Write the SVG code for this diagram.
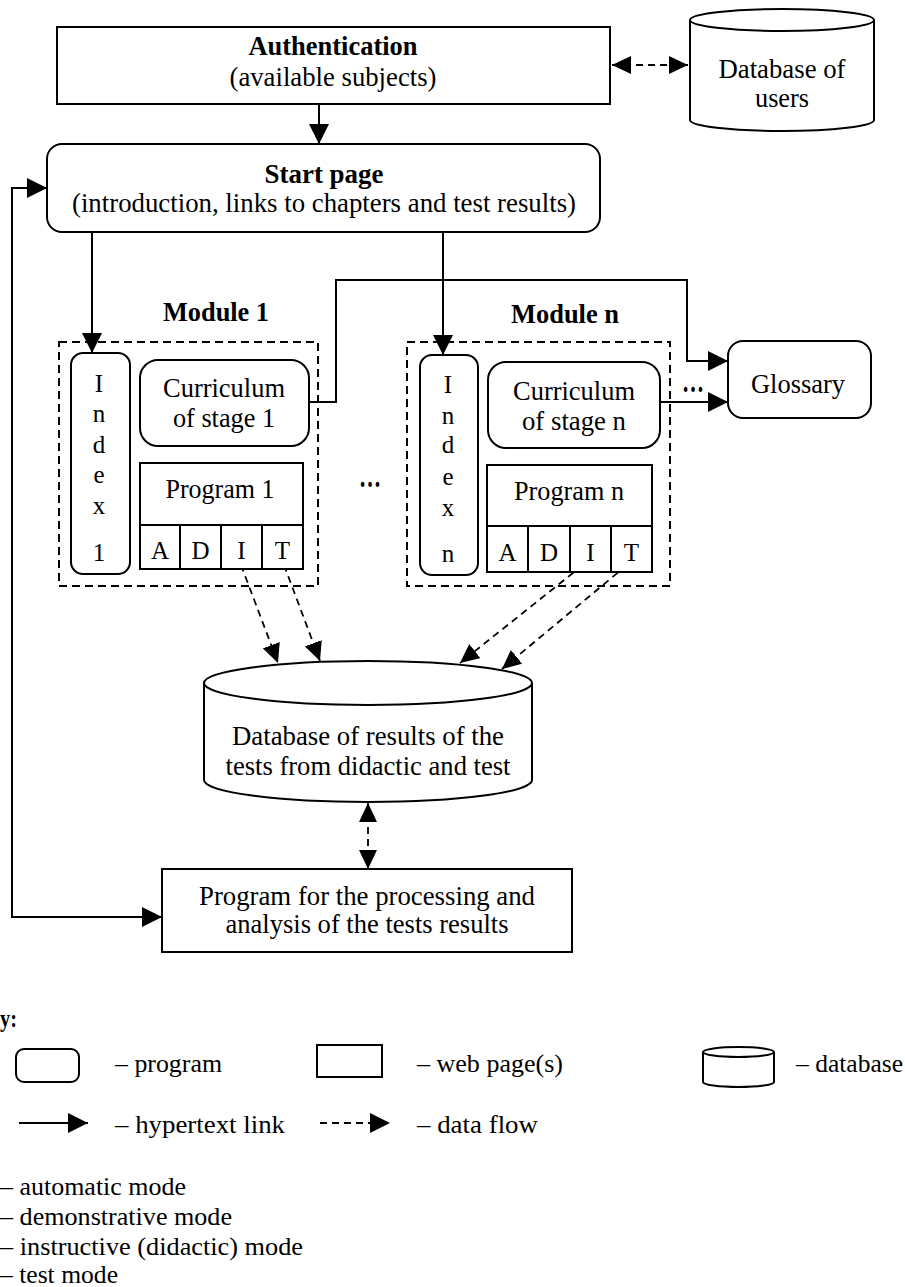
<svg xmlns="http://www.w3.org/2000/svg" width="905" height="1287" viewBox="0 0 905 1287">
<style>
.box{fill:#fff;stroke:#000;stroke-width:2}
.dbox{fill:none;stroke:#000;stroke-width:2;stroke-dasharray:8 5}
.ln{fill:none;stroke:#000;stroke-width:2}
.dl{fill:none;stroke:#000;stroke-width:1.8;stroke-dasharray:7 5}
text{font-family:"Liberation Serif","Times New Roman",serif;font-size:26.5px;fill:#000}
.c{text-anchor:middle}
.b{font-weight:bold}
.lg{font-size:25px}
.ch{font-size:25px}
.el{font-size:32px;font-weight:bold}
</style>
<defs>
<marker id="ah" markerUnits="userSpaceOnUse" markerWidth="20" markerHeight="20" refX="20" refY="10" orient="auto-start-reverse" viewBox="0 0 20 20"><path d="M0,0 L20,10 L0,20 z" fill="#000"/></marker>
<marker id="dh" markerUnits="userSpaceOnUse" markerWidth="19" markerHeight="18" refX="19" refY="9" orient="auto-start-reverse" viewBox="0 0 19 18"><path d="M0,0 L19,9 L0,18 z" fill="#000"/></marker>
</defs>

<g id="connectors">
<path class="dl" d="M612,65 L688,65" marker-start="url(#dh)" marker-end="url(#dh)"/>
<path class="ln" d="M319,104 L319,144" marker-end="url(#ah)"/>
<path class="ln" d="M92,232 L92,353" marker-end="url(#ah)"/>
<path class="ln" d="M443,232 L443,355" marker-end="url(#ah)"/>
<path class="ln" d="M309,402 L336,402 L336,280 L687,280 L687,361 L728,361" marker-end="url(#ah)"/>
<path class="ln" d="M660,402 L728,402" marker-end="url(#ah)"/>
<path class="ln" d="M162,917 L12,917 L12,188 L47,188" marker-start="url(#ah)" marker-end="url(#ah)"/>
<path class="dl" d="M241,565 L278,663" marker-end="url(#dh)"/>
<path class="dl" d="M284,565 L320,661" marker-end="url(#dh)"/>
<path class="dl" d="M583,565 L460,663" marker-end="url(#dh)"/>
<path class="dl" d="M627,565 L502,669" marker-end="url(#dh)"/>
<path class="dl" d="M368,803 L368,869" marker-start="url(#dh)" marker-end="url(#dh)"/>
</g>

<g id="authentication">
<rect class="box" x="57" y="27" width="553" height="77"/>
<text class="c b" x="333" y="55" textLength="169" lengthAdjust="spacingAndGlyphs">Authentication</text>
<text class="c" x="333" y="86" textLength="207" lengthAdjust="spacingAndGlyphs">(available subjects)</text>
</g>

<g id="db-users">
<path class="box" d="M690,20 A92,11 0 0 1 874,20 L874,120 A92,11 0 0 1 690,120 Z"/>
<path class="ln" d="M690,20 A92,11 0 0 0 874,20"/>
<text class="c" x="782" y="78" textLength="127" lengthAdjust="spacingAndGlyphs">Database of</text>
<text class="c" x="782" y="107" textLength="54" lengthAdjust="spacingAndGlyphs">users</text>
</g>

<g id="start-page">
<rect class="box" x="47" y="144" width="553" height="88" rx="15"/>
<text class="c b" x="324" y="183" textLength="119" lengthAdjust="spacingAndGlyphs">Start page</text>
<text class="c" x="324" y="212" textLength="504" lengthAdjust="spacingAndGlyphs">(introduction, links to chapters and test results)</text>
</g>

<g id="module-1">
<text class="c b" x="216" y="321" textLength="106" lengthAdjust="spacingAndGlyphs">Module 1</text>
<rect class="dbox" x="59" y="342" width="259" height="244"/>
</g>

<g id="index-1">
<rect class="box" x="71" y="353" width="59" height="221" rx="12"/>
<text class="c ch" x="99" y="392">I</text>
<text class="c ch" x="99" y="422">n</text>
<text class="c ch" x="99" y="453">d</text>
<text class="c ch" x="99" y="483">e</text>
<text class="c ch" x="99" y="514">x</text>
<text class="c ch" x="99" y="561">1</text>
</g>

<g id="curriculum-1">
<rect class="box" x="140" y="360" width="169" height="86" rx="18"/>
<text class="c" x="224" y="397" textLength="122" lengthAdjust="spacingAndGlyphs">Curriculum</text>
<text class="c" x="224" y="427" textLength="102" lengthAdjust="spacingAndGlyphs">of stage 1</text>
</g>

<g id="program-1">
<rect class="box" x="140" y="463" width="163" height="106"/>
<path class="ln" d="M140,525 L303,525 M180,525 L180,569 M221,525 L221,569 M262,525 L262,569"/>
<text class="c" x="220" y="498" textLength="109" lengthAdjust="spacingAndGlyphs">Program 1</text>
<text class="c ch" x="160" y="559">A</text>
<text class="c ch" x="200.5" y="559">D</text>
<text class="c ch" x="241.5" y="559">I</text>
<text class="c ch" x="282.5" y="559">T</text>
</g>

<g id="ellipsis-modules">
<text class="c el" x="370" y="487" textLength="22" lengthAdjust="spacingAndGlyphs">…</text>
</g>

<g id="module-n">
<text class="c b" x="565" y="323" textLength="108" lengthAdjust="spacingAndGlyphs">Module n</text>
<rect class="dbox" x="407" y="342" width="263" height="244"/>
</g>

<g id="index-n">
<rect class="box" x="420" y="355" width="58" height="220" rx="12"/>
<text class="c ch" x="448" y="393">I</text>
<text class="c ch" x="448" y="424">n</text>
<text class="c ch" x="448" y="453">d</text>
<text class="c ch" x="448" y="485">e</text>
<text class="c ch" x="448" y="516">x</text>
<text class="c ch" x="448" y="562">n</text>
</g>

<g id="curriculum-n">
<rect class="box" x="488" y="362" width="172" height="86" rx="18"/>
<text class="c" x="574" y="400" textLength="122" lengthAdjust="spacingAndGlyphs">Curriculum</text>
<text class="c" x="574" y="430" textLength="104" lengthAdjust="spacingAndGlyphs">of stage n</text>
</g>

<g id="program-n">
<rect class="box" x="487" y="465" width="165" height="107"/>
<path class="ln" d="M487,526 L652,526 M528,526 L528,572 M570,526 L570,572 M611,526 L611,572"/>
<text class="c" x="569" y="500" textLength="110" lengthAdjust="spacingAndGlyphs">Program n</text>
<text class="c ch" x="507.5" y="561">A</text>
<text class="c ch" x="549" y="561">D</text>
<text class="c ch" x="590.5" y="561">I</text>
<text class="c ch" x="631.5" y="561">T</text>
</g>

<g id="ellipsis-glossary">
<text class="c el" x="693" y="392" textLength="22" lengthAdjust="spacingAndGlyphs">…</text>
</g>

<g id="glossary">
<rect class="box" x="728" y="341" width="143" height="77" rx="15"/>
<text class="c" x="798" y="393" textLength="94" lengthAdjust="spacingAndGlyphs">Glossary</text>
</g>

<g id="db-results">
<path class="box" d="M204,683 A164,22 0 0 1 532,683 L532,780 A164,22 0 0 1 204,780 Z"/>
<path class="ln" d="M204,683 A164,22 0 0 0 532,683"/>
<text class="c" x="368" y="745" textLength="272" lengthAdjust="spacingAndGlyphs">Database of results of the</text>
<text class="c" x="368" y="775" textLength="285" lengthAdjust="spacingAndGlyphs">tests from didactic and test</text>
</g>

<g id="processing-program">
<rect class="box" x="162" y="869" width="410" height="83"/>
<text class="c" x="367" y="905" textLength="336" lengthAdjust="spacingAndGlyphs">Program for the processing and</text>
<text class="c" x="367" y="933" textLength="283" lengthAdjust="spacingAndGlyphs">analysis of the tests results</text>
</g>

<g id="legend">
<text class="b lg" x="0" y="1027" textLength="17" lengthAdjust="spacingAndGlyphs">y:</text>
<rect class="box" x="16" y="1049" width="63" height="33" rx="8"/>
<text class="lg" x="115" y="1072" textLength="107" lengthAdjust="spacingAndGlyphs">– program</text>
<rect class="box" x="317" y="1045" width="65" height="32"/>
<text class="lg" x="417" y="1072" textLength="146" lengthAdjust="spacingAndGlyphs">– web page(s)</text>
<path class="box" d="M703,1052 A35.5,5 0 0 1 774,1052 L774,1082 A35.5,5 0 0 1 703,1082 Z"/>
<path class="ln" d="M703,1052 A35.5,5 0 0 0 774,1052"/>
<text class="lg" x="796" y="1072" textLength="107" lengthAdjust="spacingAndGlyphs">– database</text>
<path class="ln" d="M19,1123 L88,1123" marker-end="url(#ah)"/>
<text class="lg" x="115" y="1133" textLength="170" lengthAdjust="spacingAndGlyphs">– hypertext link</text>
<path class="dl" d="M320,1123 L390,1123" marker-end="url(#ah)"/>
<text class="lg" x="417" y="1133" textLength="121" lengthAdjust="spacingAndGlyphs">– data flow</text>
<text class="lg" x="0" y="1195" textLength="186" lengthAdjust="spacingAndGlyphs">– automatic mode</text>
<text class="lg" x="0" y="1225" textLength="232" lengthAdjust="spacingAndGlyphs">– demonstrative mode</text>
<text class="lg" x="0" y="1255" textLength="303" lengthAdjust="spacingAndGlyphs">– instructive (didactic) mode</text>
<text class="lg" x="0" y="1283" textLength="118" lengthAdjust="spacingAndGlyphs">– test mode</text>
</g>
</svg>
